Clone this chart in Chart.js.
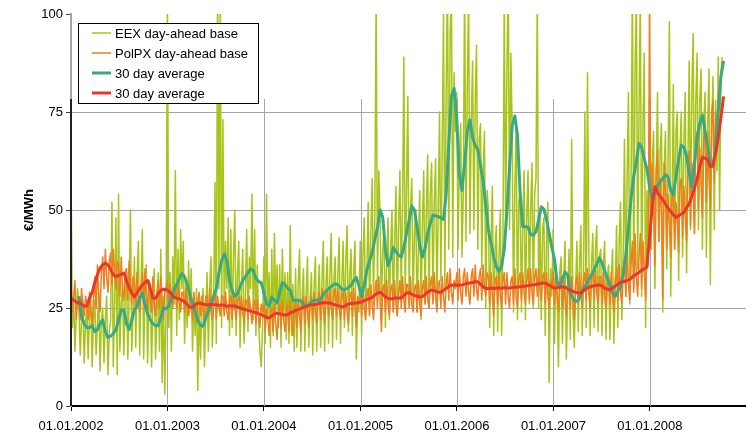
<!DOCTYPE html>
<html>
<head>
<meta charset="utf-8">
<script src="https://cdn.jsdelivr.net/npm/chart.js@4.4.1/dist/chart.umd.min.js"></script>
<style>
  html, body { margin: 0; padding: 0; background: #fff; }
  canvas { display: block; }
</style>
</head>
<body>
<canvas id="priceChart" width="746" height="433"></canvas>
<script>
// DATA
// x axis = days since 01.01.2002
const yearStarts = [0, 365, 730, 1096, 1461, 1826, 2191];
const yearLabels = ["01.01.2002", "01.01.2003", "01.01.2004", "01.01.2005", "01.01.2006", "01.01.2007", "01.01.2008"];
const seriesLabels = ["EEX day-ahead base", "PolPX day-ahead base", "30 day average", "30 day average"];

const dailyStep = 5;   // one value every 5 days
const avgStep = 10;    // one value every 10 days

const eexDaily = [
  // 2002
  61,20,28,14,24,30, 25,13,22,27,11,21, 26,12,23,28,10,22, 27,13,21,29,9,22, 25,11,22,28,8,19, 22,52,10,26,48,8,
  54,14,26,31,13,27, 35,12,28,50,14,24, 38,15,33,42,13,30, 45,12,29,36,11,27, 30,10,26,35,12,22, 34,14,40,6,28,3, 25,
  // 2003
  105,20,34,14,38,26, 60,18,40,22,45,30, 42,16,32,20,37,24, 35,14,28,18,30,4, 28,12,24,30,10,22, 34,14,30,38,15,27,
  57,16,110,30,105,20, 73,24,42,30,48,18, 45,20,38,50,18,33, 42,15,30,40,16,28, 45,19,38,30,54,22, 45,18,36,22,14,10, 20,
  // 2004
  38,16,54,22,34,15, 40,18,44,24,36,20, 36,15,40,22,34,17, 34,16,46,18,31,14, 35,15,31,40,14,28, 35,14,28,38,15,27,
  34,13,30,38,14,28, 36,15,32,42,14,31, 38,16,34,44,15,32, 38,17,33,43,16,31, 42,20,36,46,19,33, 40,18,34,42,12,26, 24,
  // 2005
  42,18,38,48,22,35, 52,24,44,58,26,48, 105,30,60,48,24,40, 44,20,36,48,22,40, 50,24,42,56,23,46, 60,28,52,89,26,55,
  79,28,50,58,26,44, 50,24,40,55,22,46, 60,26,50,64,25,54, 62,27,52,63,26,50, 75,32,65,100,30,80, 110,40,95,105,38,85, 70,
  // 2006
  80,40,62,72,38,55, 110,42,80,105,44,72, 88,45,78,92,40,68, 72,35,60,70,25,55, 50,20,42,56,18,40, 46,19,38,50,18,42,
  105,44,85,110,45,90, 70,24,55,72,22,52, 55,24,46,60,22,48, 60,26,50,62,25,54, 58,105,25,50,22,45, 48,18,42,52,6,35, 28,
  // 2007
  45,16,36,30,10,34, 38,16,32,42,12,28, 40,17,68,24,15,30, 42,19,36,46,18,33, 75,20,85,40,18,36, 44,20,40,46,19,38,
  40,18,36,42,17,33, 36,17,33,40,16,30, 46,20,42,52,22,38, 68,28,58,80,26,56, 110,30,85,105,35,75, 105,28,72,90,20,55, 40,
  // 2008
  78,40,62,70,30,58, 80,42,65,72,24,60, 70,35,62,98,28,50, 82,40,70,75,32,65, 75,38,68,80,34,62, 88,45,80,95,44,78,
  90,45,78,86,40,72, 80,38,72,86,31,70, 84,45,78,60,89,50,85,89
];

const polDaily = [
  // 2002
  30,24,28,32,22,27, 27,22,30,25,23,28, 26,22,29,24,21,27, 33,25,36,28,24,34, 38,30,40,33,29,37, 39,31,40,34,30,37,
  36,28,38,30,27,34, 35,27,37,31,26,33, 32,25,34,27,24,30, 34,26,35,28,25,32, 31,24,33,26,23,29, 32,25,33,27,22,30, 30,
  // 2003
  32,26,31,28,25,30, 30,25,31,27,24,29, 29,24,30,26,23,28, 28,22,29,25,21,27, 29,23,28,25,22,28, 28,23,30,24,22,27,
  29,22,28,25,23,28, 28,23,29,24,22,27, 28,22,29,25,22,27, 28,23,28,24,21,27, 27,22,28,24,21,26, 27,21,27,23,20,26, 24,
  // 2004
  26,19,25,22,18,24, 25,19,26,21,17,24, 26,20,27,22,19,25, 26,19,27,22,18,25, 27,20,27,23,19,26, 28,21,28,24,20,26,
  28,22,29,24,21,27, 29,22,30,25,21,28, 29,23,30,25,22,28, 30,23,30,25,22,28, 29,22,29,24,21,28, 29,23,30,25,20,28, 26,
  // 2005
  29,23,30,25,22,28, 30,23,31,26,22,29, 32,25,33,27,19,30, 31,24,32,26,23,30, 31,24,32,26,23,29, 32,25,33,27,24,31,
  31,25,33,26,24,30, 31,24,32,26,23,30, 32,26,33,27,25,31, 33,26,34,28,24,31, 32,25,33,28,24,31, 34,27,35,29,26,32, 30,
  // 2006
  34,27,35,29,26,33, 35,28,34,29,26,33, 35,28,36,30,27,33, 35,27,36,30,28,34, 33,26,34,28,23,32, 33,26,34,28,25,32,
  34,26,34,28,25,32, 33,26,35,28,25,32, 34,27,34,29,26,32, 35,27,35,29,26,33, 35,28,35,30,27,33, 34,26,34,28,25,32, 30,
  // 2007
  34,26,33,28,24,32, 33,25,33,27,23,31, 32,25,33,27,22,31, 33,26,34,28,25,32, 34,27,35,29,25,33, 34,27,35,29,26,33,
  33,26,34,28,25,32, 33,26,34,28,24,32, 35,27,36,29,26,34, 38,28,40,31,27,36, 42,29,44,33,28,38, 44,30,42,34,27,40, 36,
  // 2008
  105,40,62,52,36,60, 65,42,58,50,27,62, 56,40,54,46,38,55, 55,40,52,47,39,57, 58,43,56,48,42,60, 65,46,62,54,44,68,
  70,50,66,56,48,68, 72,52,70,58,50,75, 78,57,75,65,80
];

const eexAvg = [
  null,null,null,28,23,21,20,20,20.5,19,19.5,21,22,19,17.5,17.8,18.5,19.4,22,24.5,24.5,21,19.5,22,24.5,25.5,27.5,28.8,26,23.5,22,21,20.5,20.5,22.5,25,24.8,
  25.5,27.5,29.6,31,32.5,33.8,33,31,28.5,26,24,22,20.5,20.3,22.5,24.3,26,28,30,34,37,38.8,37,32,29.5,28,28.5,30.5,32,33,34,35,34.5,32.5,31.8,31.4,
  29,26,25.5,27.8,27,26.3,29,31.5,31,30,29.5,27,27,27,26.8,26,25.4,25.8,26.6,27,27,27,27.8,29,29.6,30.2,30.8,31.2,31,30.2,29.6,29.8,30.2,30.8,32,32.8,30.5,
  28,31,34.7,37,39.2,42.5,45.5,50,48.2,40,35.8,37.5,40.4,39.4,38.5,38,40.5,44,47.5,51,50,45.5,41,38,40.2,44,46.5,48.7,48.5,48.3,48,47.6,54,67,79,81,73.7,
  59,55,62,70,73,68.5,66.5,65.3,61.5,57.3,51,44.8,41.5,38,35.5,34.3,35.8,40,49.5,61,71.5,74,69,54.5,45.7,45.7,45.6,43.8,43.5,44.5,47.5,50.8,50.2,47.5,44,40.5,
  37.5,31.8,30.4,32.3,34.2,33.5,28.5,27.5,26.6,27,28.5,30,31,32.2,33.4,34.8,36.2,37.8,36.5,34.5,32.6,30.8,29,28,29.3,30.6,33.5,38.5,45.5,53,58.5,62.5,67,66,63,60.5,
  56,52.8,54.5,56.2,57.2,58,59,58.5,55,54,58.5,63,66.5,66,63.7,59.5,55.9,62,68,72.2,74.2,70,66.3,61.5,61,66,75,84,88
];

const polAvg = [
  27.5,27,26.5,26.3,26,25.5,25.5,27.5,29,31.5,33.5,35.2,36,36.5,36,34.8,33.5,33,33.3,33.6,33.9,32,30.2,28.8,27.8,28.8,30,30.8,31.5,32,30,27.5,27.5,28.6,29.5,29.8,29.7,
  29.3,28.6,27.8,27.5,27.3,27,26.6,25.9,25.2,25.2,25.8,26.2,26.2,26,25.8,25.8,25.9,25.8,25.8,25.6,25.8,25.7,25.4,25.6,25.5,25.5,25.3,25,24.8,24.6,24.4,24.2,24,23.8,23.5,23.3,
  23,22.6,22.5,23,23.5,23.7,23.5,23.3,23.2,23.3,23.8,24,24.4,24.6,24.9,25.2,25.4,25.6,25.8,25.8,26,26.2,26.3,26.4,26.3,26.3,26,25.8,25.6,25.4,25.3,25.6,26,26.2,26.2,26.3,26.4,
  26.5,26.9,27.2,27.4,27.7,28.3,28.8,29,28.5,27.8,27.5,27.3,27.4,27.6,27.5,27.6,28.2,28.8,28.9,28.5,28.2,28,27.8,27.9,28.4,29,29.5,29.5,29.3,29,29,29.5,30,30.5,30.8,30.9,30.8,
  30.8,30.9,31.1,31.3,31.4,31.5,31.7,31.7,31,30.4,30,30,30.1,30,30.1,30.1,30,30.2,30.1,30.1,30.2,30.3,30.3,30.4,30.5,30.6,30.7,30.8,30.9,31,31.2,31.3,31.4,31.2,30.8,30.4,
  30.1,30.2,30.3,30.4,30.3,29.9,29.5,29.2,29,28.8,28.9,29.4,29.9,30.3,30.5,30.7,30.8,30.9,30.6,30.1,29.8,29.6,30.1,30.6,31.1,31.5,31.7,31.9,32.1,32.6,33.2,33.6,34.1,34.6,35,35.4,
  43,51,55.9,54.4,53.5,52.6,51.5,50.5,49.6,48.8,48.1,48.5,49,49.4,50.5,51.6,53.5,55.5,58,61,63.5,63.2,62.8,61,61.5,64.5,68.5,73.5,79
];

const colors = {
  eex: "#a8c41a",
  pol: "#f07d1e",
  eexAvg: "#3aa882",
  polAvg: "#e6392a",
  grid: "#a6a6a6",
  axis: "#222222",
};
const FONT = "'Liberation Sans', Arial, sans-serif";

// CHART
function toPoints(values, step) {
  return values.map((v, i) => ({ x: i * step, y: v }));
}

// vertical year lines start a bit below the top, like the original
const refDecor = {
  id: "refDecor",
  beforeDatasetsDraw(chart) {
    const { ctx, scales } = chart;
    const x = scales.x;
    const y = scales.y;
    const top = y.getPixelForValue(78.3);
    const bottom = y.getPixelForValue(0);
    ctx.save();
    ctx.strokeStyle = colors.grid;
    ctx.lineWidth = 1;
    x.ticks.forEach((t, i) => {
      if (i === 0) return;
      const px = Math.round(x.getPixelForValue(t.value)) + 0.5;
      ctx.beginPath();
      ctx.moveTo(px, top);
      ctx.lineTo(px, bottom);
      ctx.stroke();
    });
    ctx.restore();
  },
  afterDatasetsDraw(chart) {
    const { ctx, scales, chartArea } = chart;
    const y = scales.y;
    ctx.save();
    ctx.strokeStyle = colors.axis;
    ctx.lineWidth = 2;
    ctx.beginPath();
    ctx.moveTo(chartArea.left, y.getPixelForValue(78.3));
    ctx.lineTo(chartArea.left, y.getPixelForValue(0));
    ctx.stroke();
    ctx.restore();
  },
  afterDraw(chart) {
    const { ctx } = chart;
    const sets = chart.data.datasets;
    const box = { x: 78.5, y: 23.5, w: 180, h: 80 };
    ctx.save();
    ctx.fillStyle = "#fff";
    ctx.fillRect(box.x, box.y, box.w, box.h);
    ctx.strokeStyle = "#000";
    ctx.lineWidth = 1;
    ctx.strokeRect(box.x, box.y, box.w, box.h);
    ctx.font = "13px " + FONT;
    ctx.textBaseline = "middle";
    ctx.fillStyle = "#000";
    sets.forEach((ds, i) => {
      const cy = 33 + i * 20;
      ctx.strokeStyle = ds.borderColor;
      ctx.lineWidth = ds.borderWidth > 2 ? 3 : 1.5;
      ctx.beginPath();
      ctx.moveTo(92, cy);
      ctx.lineTo(111, cy);
      ctx.stroke();
      ctx.fillText(ds.label, 115, cy + 1);
    });
    ctx.restore();
  },
};

function setupChart() {
  const canvas = document.querySelector("#priceChart");
  if (!canvas) return;

  new Chart(canvas, {
    type: "line",
    data: {
      datasets: [
        {
          label: seriesLabels[0],
          data: toPoints(eexDaily, dailyStep),
          borderColor: colors.eex,
          borderWidth: 1.5,
          order: 4,
        },
        {
          label: seriesLabels[1],
          data: toPoints(polDaily, dailyStep),
          borderColor: colors.pol,
          borderWidth: 1.5,
          order: 3,
        },
        {
          label: seriesLabels[2],
          data: toPoints(eexAvg, avgStep),
          borderColor: colors.eexAvg,
          borderWidth: 3,
          order: 2,
        },
        {
          label: seriesLabels[3],
          data: toPoints(polAvg, avgStep),
          borderColor: colors.polAvg,
          borderWidth: 3,
          order: 1,
        },
      ],
    },
    options: {
      responsive: false,
      animation: false,
      devicePixelRatio: 1,
      layout: { padding: { top: 14, right: 0, bottom: 0, left: 0 } },
      elements: {
        point: { radius: 0 },
        line: { tension: 0, borderJoinStyle: "round" },
      },
      plugins: {
        legend: { display: false },
        tooltip: { enabled: false },
      },
      scales: {
        x: {
          type: "linear",
          min: 0,
          max: 2555,
          afterBuildTicks: (s) => {
            s.ticks = yearStarts.map((v) => ({ value: v }));
          },
          afterFit: (s) => {
            s.height = 27;
          },
          ticks: {
            autoSkip: false,
            maxRotation: 0,
            color: "#000",
            padding: 8,
            font: { family: FONT, size: 13 },
            callback: (v, i) => yearLabels[i],
          },
          grid: { drawOnChartArea: false, color: "#000", tickLength: 5 },
          border: { color: "#000", width: 2 },
        },
        y: {
          min: 0,
          max: 100,
          afterFit: (s) => {
            s.width = 71;
          },
          ticks: {
            stepSize: 25,
            color: "#000",
            padding: 3,
            font: { family: FONT, size: 13 },
          },
          grid: {
            color: (c) => (c.tick && c.tick.value > 0 && c.tick.value < 100 ? colors.grid : "rgba(0,0,0,0)"),
            tickColor: "#444",
            tickLength: 5,
          },
          border: { color: colors.grid, width: 2 },
          title: {
            display: true,
            text: "€/MWh",
            color: "#000",
            font: { family: FONT, size: 13, weight: "bold" },
            padding: { top: 22, bottom: 0 },
          },
        },
      },
    },
    plugins: [refDecor],
  });
}

document.addEventListener("DOMContentLoaded", setupChart);
</script>
</body>
</html>
